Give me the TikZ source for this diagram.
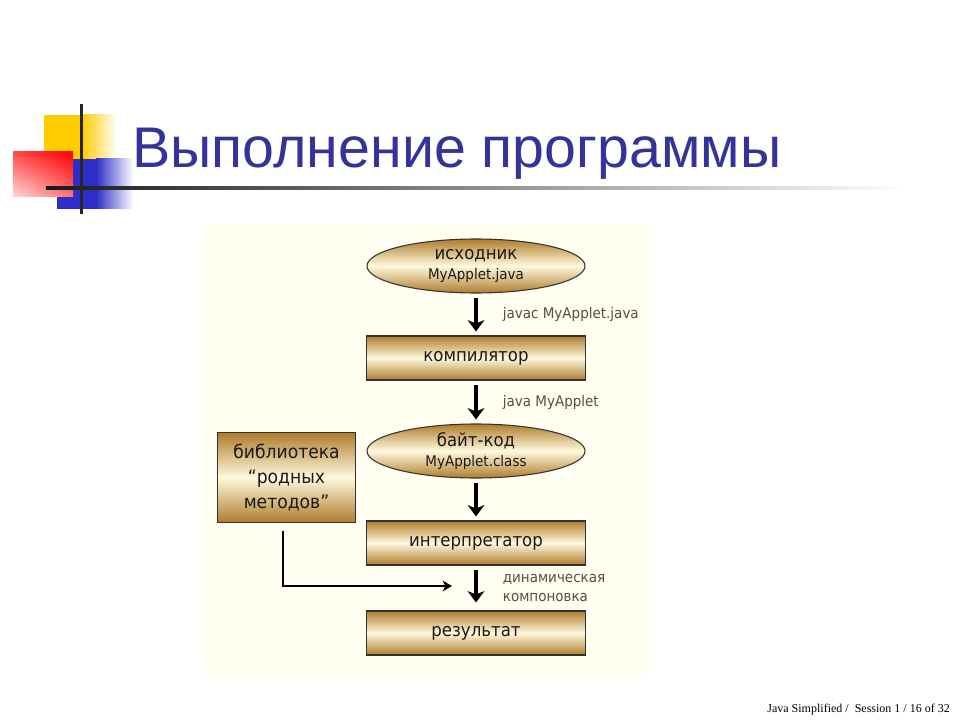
\documentclass[tikz,border=0pt]{standalone}
\usepackage{fontspec}
\setmainfont{DejaVu Sans}
\newfontfamily\titlefont{Liberation Sans}
\newfontfamily\footfont{Liberation Serif}
\newfontfamily\boxfont[FakeStretch=0.92]{DejaVu Sans}
\usetikzlibrary{shapes.geometric,arrows.meta,shadings}

\definecolor{titleblue}{RGB}{51,51,153}
\definecolor{decoyellow}{RGB}{255,204,0}
\definecolor{decored}{RGB}{255,0,0}
\definecolor{decoblue}{RGB}{45,45,200}
\definecolor{panelcream}{RGB}{255,254,240}
\definecolor{stepgold}{RGB}{176,124,44}
\definecolor{steplight}{RGB}{255,249,222}
\definecolor{labelgray}{RGB}{80,82,70}

\begin{document}
\begin{tikzpicture}[x=0.75pt,y=-0.75pt,
  goldfill/.style={draw=black!80, line width=0.8pt, top color=stepgold, bottom color=stepgold,
    middle color=steplight, text=black!90, inner sep=0pt,
    font=\boxfont\fontsize{13.5}{16}\selectfont},
  stepbox/.style={goldfill, rectangle, minimum width=164pt, minimum height=33pt},
  filebox/.style={goldfill, ellipse, minimum width=163.5pt, minimum height=40.5pt, align=center},
  flow/.style={line width=2.3pt, -{Stealth[length=8.5pt,width=12.5pt,inset=2.5pt]},
    shorten <=3pt, shorten >=3pt},
  libflow/.style={line width=1.6pt, -{Stealth[length=7pt,width=8pt,inset=2pt]}},
  note/.style={text=labelgray, font=\boxfont\fontsize{11}{14}\selectfont, align=left, inner sep=0pt}]
  \useasboundingbox (0,0) rectangle (960,720);
  \fill[white] (0,0) rectangle (960,720);

  % corner decoration and title rule
  \fill[decoyellow] (44,115) rectangle (82,160);
  \shade[left color=decoyellow, right color=white] (82,115) rectangle (117,160);
  \fill[decoblue] (57,159) rectangle (96,209);
  \shade[left color=decoblue, right color=white] (96,159) rectangle (133,209);
  \shade[upper left=decored!70!white, upper right=decored,
    lower left=decored!15!white, lower right=decored!55!white] (13,152) rectangle (73,197);
  \shade[left color=black!90, right color=white] (46,187) rectangle (905,190);
  \fill[black!85] (79.5,104) rectangle (82.5,214);

  \node[anchor=base west, text=titleblue, inner sep=0pt,
    font=\titlefont\fontsize{43}{50}\selectfont] (title) at (132,168) {Выполнение программы};

  % diagram panel
  \fill[panelcream] (200,224) rectangle (650,675);

  \node[filebox] (src) at (476,266)
    {исходник\\[-1pt]\fontsize{11}{13}\selectfont MyApplet.java};
  \node[stepbox] (comp) at (476,358) {компилятор};
  \node[filebox] (bytecode) at (476,451)
    {байт-код\\[-1pt]\fontsize{11}{13}\selectfont MyApplet.class};
  \node[stepbox] (interp) at (476,543) {интерпретатор};
  \node[stepbox] (result) at (476,633) {результат};
  \node[goldfill, rectangle, minimum width=104pt, minimum height=67pt, align=center,
    font=\boxfont\fontsize{14}{18.75}\selectfont] (natlib) at (286.5,477.5)
    {библиотека\\“родных\\методов”};
  \coordinate (dock) at (452,586);

  \draw[flow] (src) -- (comp) node[note, midway, right=19pt] {javac MyApplet.java};
  \draw[flow] (comp) -- (bytecode) node[note, midway, right=19pt] {java MyApplet};
  \draw[flow] (bytecode) -- (interp);
  \draw[flow, shorten >=6pt] (interp) -- (result)
    node[note, midway, right=19pt] {динамическая\\компоновка};
  \draw[libflow] ([xshift=-2.5pt,yshift=-6pt]natlib.south) |- (dock);

  \node[anchor=base east, inner sep=0pt, font=\footfont\fontsize{9}{11}\selectfont] (footer)
    at (950,712) {Java Simplified /\ \ Session 1 / 16 of 32};
\end{tikzpicture}
\end{document}
